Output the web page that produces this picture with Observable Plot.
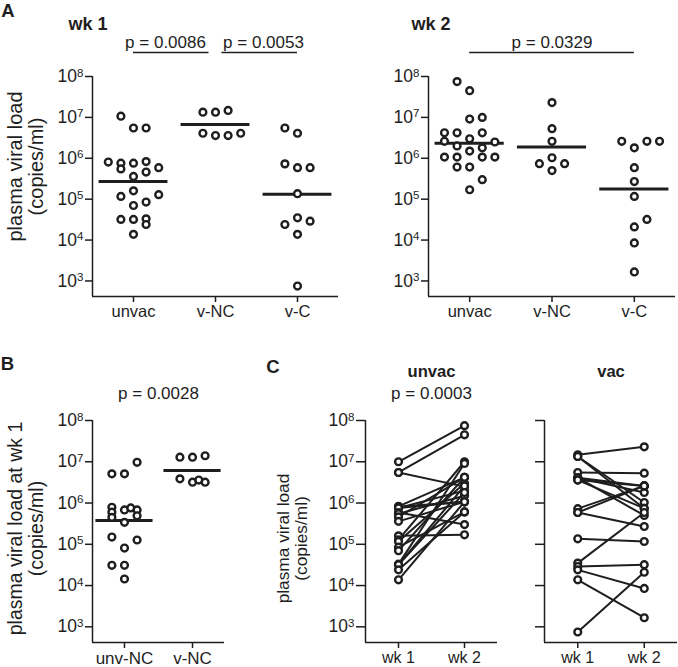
<!DOCTYPE html>
<html>
<head>
<meta charset="utf-8">
<script src="https://cdn.jsdelivr.net/npm/d3@7"></script>
<script src="https://cdn.jsdelivr.net/npm/@observablehq/plot@0.6"></script>
<style>
  body { margin: 0; background: #fff; }
  #fig { position: relative; width: 678px; height: 667px; overflow: hidden; background: #fff; }
</style>
</head>
<body>
<div id="fig"></div>
<script>
// ---------------- DATA ----------------
// Panel A, week 1 (copies/ml) and beeswarm lane of each point
const catsA = ["unvac", "v-NC", "v-C"];
const wk1Unvac     = [1.07e7, 5.5e6, 5.5e6, 8.1e5, 7.6e5, 5.5e5, 7.6e5, 8.3e5, 4.6e5, 5.9e5, 3.6e5, 1.17e5, 1.6e5, 1.29e5, 8.5e4, 7.0e4, 3.2e4, 3.2e4, 3.3e4, 2.4e4, 1.38e4];
const wk1UnvacLane = [-1, 0, 1, -2, -1, -1, 0, 1, 1, 2, 0, -1, 0, 2, 1, 0, -1, 0, 1, 1, 0];
const wk1VNC       = [1.34e7, 1.34e7, 1.48e7, 4.1e6, 3.6e6, 3.6e6, 4.1e6];
const wk1VNCLane   = [-1, 0, 1, -1, 0, 1, 2];
const wk1VC        = [5.5e6, 4.1e6, 7.3e5, 5.9e5, 5.9e5, 1.36e5, 3.5e4, 2.4e4, 2.9e4, 1.38e4, 750];
const wk1VCLane    = [-1, 0, -1, 0, 1, 0, 0, -1, 1, 0, 0];
const wk1Comparisons = [{a: "unvac", b: "v-NC", p: "0.0086", bar: true}, {a: "v-NC", b: "v-C", p: "0.0053", bar: true}];

// Panel A, week 2
const wk2Unvac     = [7.5e7, 4.5e7, 9.1e6, 1.0e7, 4.2e6, 4.2e6, 3.0e6, 4.2e6, 2.6e6, 2.0e6, 1.8e6, 2.5e6, 1.5e6, 1.07e6, 1.07e6, 1.07e6, 1.07e6, 6.1e5, 6.1e5, 3.0e5, 1.7e5];
const wk2UnvacLane = [-1, 0, 0, 1, -2, -1, 0, 1, -2, -1, 1, 2, 0, -2, -1, 1, 2, -1, 0, 1, 0];
const wk2VNC       = [2.3e7, 5.3e6, 2.6e6, 1.03e6, 7.4e5, 7.4e5, 5.0e5];
const wk2VNCLane   = [0, 0, 0, 0, -1, 1, 0];
const wk2VC        = [2.6e6, 1.8e6, 2.6e6, 2.6e6, 5.9e5, 2.7e5, 1.17e5, 3.2e4, 2.1e4, 8.5e3, 1.66e3];
const wk2VCLane    = [-1, 0, 1, 2, 0, 0, 0, 1, 0, 0, 0];
const wk2Comparisons = [{a: "unvac", b: "v-C", p: "0.0329", bar: true}];

// Panel B, week 1
const catsB = ["unv-NC", "v-NC"];
const bUnvNC     = [9.7e6, 5.1e6, 5.1e6, 7.9e5, 6.0e5, 4.5e5, 6.8e5, 7.6e5, 6.8e5, 4.9e5, 3.4e5, 1.5e5, 1.27e5, 8.1e4, 3.1e4, 3.1e4, 1.44e4];
const bUnvNCLane = [1, -1, 0, -1, -1, -1, 0, 0.5, 1, 1, 0, -1, 1, 0, -1, 0, 0];
const bVNC       = [1.29e7, 1.29e7, 1.4e7, 3.85e6, 3.2e6, 3.6e6, 3.2e6];
const bVNCLane   = [-1, 0, 1, -1, 0, 0.5, 1];
const bComparisons = [{a: "unv-NC", b: "v-NC", p: "0.0028", bar: false}];

// Panel C, paired animals (week 1 -> week 2)
const catsC = ["wk 1", "wk 2"];
const cUnvacWk1 = [1e7, 5.5e6, 5.5e6, 8.3e5, 8.1e5, 7.6e5, 7.6e5, 5.9e5, 5.5e5, 4.6e5, 3.6e5, 1.6e5, 1.29e5, 1.17e5, 8.5e4, 7e4, 3.3e4, 3.2e4, 3.2e4, 2.4e4, 1.38e4];
const cUnvacWk2 = [7.5e7, 4.5e7, 2.5e6, 4.2e6, 1.07e6, 2.0e6, 1.07e6, 3.0e5, 1.5e6, 4.2e6, 1.07e6, 1.7e5, 1e7, 3.0e6, 6.1e5, 4.2e6, 9.1e6, 2.6e6, 1.8e6, 6.1e5, 1.07e6];
const cVacWk1   = [1.48e7, 1.34e7, 1.34e7, 5.5e6, 4.1e6, 4.1e6, 4.1e6, 3.6e6, 3.6e6, 7.3e5, 5.9e5, 5.9e5, 1.36e5, 3.5e4, 2.9e4, 2.4e4, 1.38e4, 750];
const cVacWk2   = [2.3e7, 1.03e6, 7.4e5, 5.3e6, 2.6e6, 1.8e6, 5.0e5, 2.6e6, 7.4e5, 2.6e6, 2.6e6, 2.7e5, 1.17e5, 5.9e5, 3.2e4, 8.5e3, 1.66e3, 2.1e4];
const cComparisons = [{a: "wk 1", b: "wk 2", p: "0.0003", bar: false}];

const yTickValues = [1e3, 1e4, 1e5, 1e6, 1e7, 1e8];
const yTitle  = "plasma viral load\n(copies/ml)";
const yTitleB = "plasma viral load at wk 1\n(copies/ml)";

// ---------------- STYLE ----------------
const INK = "#1e1e1e";
const FONT = '"Liberation Sans", Arial, Helvetica, sans-serif';
const Y_MIN = 10 ** 2.62, Y_MAX = 1e8;
const LANE_PX = 12.6, HALF = 0.42, DOT_R = 3.4, DOT_SW = 2.4;
const TICK_FONT = 17.5;

const fig = document.getElementById("fig");

function superscripts(svg) {
  d3.select(svg).selectAll("text").each(function () {
    const m = /^10\^(\d+)$/.exec(this.textContent);
    if (!m) return;
    this.textContent = "10";
    d3.select(this).append("tspan").attr("dy", "-0.48em").attr("font-size", "0.66em").text(m[1]);
  });
}

function place(svg, left, top) {
  svg.style.position = "absolute";
  svg.style.left = left + "px";
  svg.style.top = top + "px";
  fig.appendChild(svg);
  superscripts(svg);
}

function note(txt, dx, dy, o = {}) {
  return Plot.text([txt], {
    frameAnchor: "top-left", text: d => d, dx, dy,
    textAnchor: o.anchor ?? "middle", lineAnchor: "middle",
    fontSize: o.size ?? 16, fontWeight: o.bold ? "bold" : "normal",
    rotate: o.rotate ?? 0, lineHeight: o.lh ?? 1, fill: INK
  });
}

function header(txt, cats, dy, size) {
  return Plot.text([txt], {x: (cats.length - 1) / 2, frameAnchor: "top", dy, text: d => d,
    lineAnchor: "middle", fontSize: size, fontWeight: "bold", fill: INK});
}

function comparisons(comps, cats, barDy, textDy, size) {
  const idx = c => cats.indexOf(c);
  const shared = c => comps.filter(d => d.a === c || d.b === c).length > 1;
  const marks = [];
  for (const d of comps) {
    if (d.bar) marks.push(Plot.ruleY([d], {
      x1: idx(d.a), x2: idx(d.b), y: Y_MAX, dy: barDy,
      insetLeft: shared(d.a) ? 6.5 : 0, insetRight: shared(d.b) ? 6.5 : 0,
      stroke: INK, strokeWidth: 1.3
    }));
    marks.push(Plot.text([d], {x: (idx(d.a) + idx(d.b)) / 2, frameAnchor: "top", dy: textDy,
      dx: (shared(d.a) ? 7 : 0) - (shared(d.b) ? 9 : 0),
      lineAnchor: "middle", text: t => `p = ${t.p}`, fontSize: size, fill: INK}));
  }
  return marks;
}

function scatter(groups) {
  return unit => {
    const pts = groups.flatMap((g, i) => g.values.map((v, j) => ({x: i + g.lanes[j] * LANE_PX / unit, v})));
    const gm = groups.map((g, i) => ({i, m: 10 ** d3.mean(g.values, v => Math.log10(v))}));
    return [
      Plot.ruleY(gm, {y: "m", x1: d => d.i - HALF, x2: d => d.i + HALF, stroke: INK, strokeWidth: 3}),
      Plot.dot(pts, {x: "x", y: "v", r: DOT_R, stroke: INK, strokeWidth: DOT_SW, fill: "white"})
    ];
  };
}

function paired(w1, w2) {
  return () => {
    const pairs = w1.map((v, k) => ({a: v, b: w2[k]}));
    return [
      Plot.link(pairs, {x1: 0, x2: 1, y1: "a", y2: "b", stroke: INK, strokeWidth: 2}),
      Plot.dot(pairs, {x: 0, y: "a", r: DOT_R, stroke: INK, strokeWidth: DOT_SW, fill: "white"}),
      Plot.dot(pairs, {x: 1, y: "b", r: DOT_R, stroke: INK, strokeWidth: DOT_SW, fill: "white"})
    ];
  };
}

function panel({width, height, ml, mr, mt, mb, cats, pad = 0.5, yLabels = true, tickSize = 7, catSize = 16.5, marks, extra = []}) {
  const xDomain = [-pad, cats.length - 1 + pad];
  const unit = (width - ml - mr) / (xDomain[1] - xDomain[0]);
  return Plot.plot({
    width, height, marginLeft: ml, marginRight: mr, marginTop: mt, marginBottom: mb,
    x: {type: "linear", domain: xDomain},
    y: {type: "log", domain: [Y_MIN, Y_MAX]},
    style: {fontFamily: FONT, fontSize: TICK_FONT + "px", color: INK, background: "transparent", overflow: "visible"},
    marks: [
      Plot.axisY({ticks: yTickValues, tickSize, tickPadding: 2, strokeWidth: 1.5, fontSize: TICK_FONT, label: null,
        tickFormat: yLabels ? d => `10^${Math.round(Math.log10(d))}` : () => ""}),
      Plot.axisX({ticks: d3.range(cats.length), tickSize: 6, tickPadding: 3, strokeWidth: 1.5, fontSize: catSize, label: null,
        tickFormat: i => cats[i]}),
      Plot.ruleX([xDomain[0]], {stroke: INK, strokeWidth: 1.5}),
      Plot.ruleY([Y_MIN], {stroke: INK, strokeWidth: 1.5}),
      ...marks(unit),
      ...extra
    ]
  });
}

// ---------------- PANEL A: week 1 ----------------
place(panel({
  width: 340, height: 330, ml: 92, mr: 2, mt: 76, mb: 34, cats: catsA,
  marks: scatter([
    {values: wk1Unvac, lanes: wk1UnvacLane},
    {values: wk1VNC, lanes: wk1VNCLane},
    {values: wk1VC, lanes: wk1VCLane}
  ]),
  extra: [
    note("A", -84.5, -65.5, {bold: true, size: 18.5}),
    note("wk 1", -24, -52.5, {bold: true, size: 18, anchor: "start"}),
    note(yTitle, -66.5, 90, {rotate: -90, size: 20, lh: 1.05}),
    ...comparisons(wk1Comparisons, catsA, -24, -34, 17)
  ]
}), 0, 0);

// ---------------- PANEL A: week 2 ----------------
place(panel({
  width: 338, height: 330, ml: 88, mr: 3, mt: 76, mb: 34, cats: catsA,
  marks: scatter([
    {values: wk2Unvac, lanes: wk2UnvacLane},
    {values: wk2VNC, lanes: wk2VNCLane},
    {values: wk2VC, lanes: wk2VCLane}
  ]),
  extra: [
    note("wk 2", -17, -52.5, {bold: true, size: 18, anchor: "start"}),
    ...comparisons(wk2Comparisons, catsA, -24, -34, 17)
  ]
}), 340, 0);

// ---------------- PANEL B ----------------
place(panel({
  width: 240, height: 337, ml: 92, mr: 16, mt: 90, mb: 25, cats: catsB, pad: 0.47, catSize: 17,
  marks: scatter([
    {values: bUnvNC, lanes: bUnvNCLane},
    {values: bVNC, lanes: bVNCLane}
  ]),
  extra: [
    note("B", -85, -56.5, {bold: true, size: 18.5}),
    note(yTitleB, -66.5, 108, {rotate: -90, size: 19.5, lh: 1.07}),
    ...comparisons(bComparisons, catsB, -24, -27, 17)
  ]
}), 0, 330);

// ---------------- PANEL C: unvac ----------------
place(panel({
  width: 260, height: 337, ml: 125, mr: 3, mt: 90, mb: 25, cats: catsC, tickSize: 9, catSize: 16,
  marks: paired(cUnvacWk1, cUnvacWk2),
  extra: [
    note("C", -92.5, -53.3, {bold: true, size: 18.5}),
    header("unvac", catsC, -48.5, 16.6),
    note(yTitle, -73.5, 118, {rotate: -90, size: 17.3, lh: 1.05}),
    ...comparisons(cComparisons, catsC, -24, -27, 17)
  ]
}), 240, 330);

// ---------------- PANEL C: vac ----------------
place(panel({
  width: 178, height: 337, ml: 44, mr: 1, mt: 90, mb: 25, cats: catsC, tickSize: 9, catSize: 16, yLabels: false,
  marks: paired(cVacWk1, cVacWk2),
  extra: [
    header("vac", catsC, -48.5, 16.6)
  ]
}), 500, 330);
</script>
</body>
</html>
